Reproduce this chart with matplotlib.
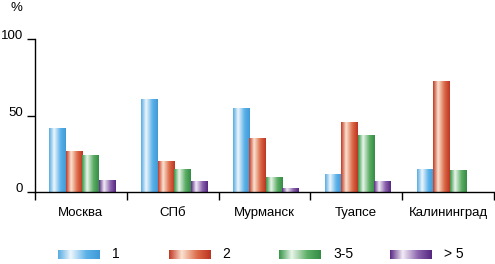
import numpy as np
import matplotlib.pyplot as plt
from matplotlib.colors import LinearSegmentedColormap

plt.rcParams['font.family'] = ['Liberation Sans', 'DejaVu Sans']

# data
cities = ['Москва', 'СПб', 'Мурманск', 'Туапсе', 'Калининград']
s1 = [42, 61, 55, 12, 15]
s2 = [27, 20, 35.5, 46, 72.5]
s3 = [24, 15, 9.5, 37, 14.5]
s4 = [8, 7, 2.5, 7.5, 0]
labels = ['1', '2', '3-5', '> 5']

# gradient stops per series: left edge, light band, body, right edge
grads = [
    ['#58ace2', '#eef6fc', '#5cb2e8', '#3f9ad8'],
    ['#c23a26', '#fbe2d0', '#dc6a48', '#bc3422'],
    ['#379848', '#eaf5ea', '#5cae66', '#348c44'],
    ['#5c2c86', '#f2ecf6', '#8a62ac', '#562880'],
]
cmaps = [LinearSegmentedColormap.from_list('g%d' % i, list(zip([0, 0.3, 0.68, 1], g)))
         for i, g in enumerate(grads)]
grad = np.linspace(0, 1, 64).reshape(1, -1)

fig = plt.figure(figsize=(4.95, 2.64), dpi=100)
ax = fig.add_axes([35/495, 1-192/264, 459/495, 153/264])

x = np.arange(len(cities))
w = 0.18
for i, vals in enumerate([s1, s2, s3, s4]):
    bars = ax.bar(x + (i - 1.5) * w + 0.016, vals, w, color='none', linewidth=0)
    for b in bars:
        if b.get_height() <= 0:
            continue
        x0, y0 = b.get_x(), b.get_y()
        im = ax.imshow(grad, cmap=cmaps[i], aspect='auto',
                       extent=(x0, x0 + b.get_width(), y0, y0 + b.get_height()),
                       interpolation='bilinear', zorder=2)
        im.set_clip_path(b)

ax.set_xlim(-0.5, len(cities) - 0.5)
ax.set_ylim(0, 100)
ax.spines['top'].set_visible(False)
ax.spines['right'].set_visible(False)
ax.spines['left'].set_linewidth(1)
ax.spines['bottom'].set_linewidth(1)

ax.set_yticks([0, 50, 100])
ax.set_yticklabels(['0', '50', '100'], fontsize=9.5, va='baseline')
ax.tick_params(axis='y', length=6, width=1, pad=2.5)
ax.set_xticks(np.arange(-0.5, len(cities)))
ax.set_xticklabels([])
ax.tick_params(axis='x', which='major', length=6, width=1)
ax.set_xticks(x, minor=True)
ax.set_xticklabels(cities, minor=True, fontsize=9.5)
ax.tick_params(axis='x', which='minor', length=0, pad=11)

fig.text(16/495, 1-8/264, '%', fontsize=9.5, ha='center', va='center')

# legend row drawn in pixel coordinates
lg = fig.add_axes([0, 0, 1, 1], zorder=-1)
lg.axis('off')
for i, lab in enumerate(labels):
    lx = 58 + i * 110.5
    lg.imshow(grad, cmap=cmaps[i], aspect='auto', extent=(lx, lx + 42, 259, 250),
              interpolation='bilinear')
    lg.text(lx + 54, 254.5, lab, fontsize=10, ha='left', va='center')
lg.set_xlim(0, 495)
lg.set_ylim(264, 0)

fig.savefig('out.png', dpi=100)
